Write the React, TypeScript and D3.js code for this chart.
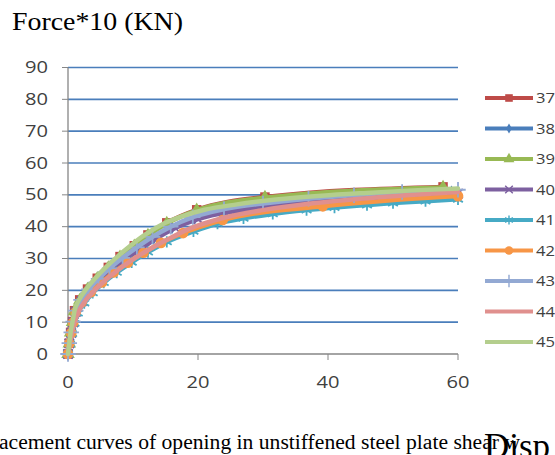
import React from "react";
import * as d3 from "d3";

const seriesNames = ["37", "38", "39", "40", "41", "42", "43", "44", "45"];
const seriesColors = ["#BE4B48", "#4A7EBB", "#98B954", "#7D60A0", "#46AAC5", "#F79646", "#93A9D3", "#E0908E", "#B4CE8D"];
const markerTypes = ["square", "diamond", "triangle", "times", "asterisk", "circle", "plus", "none", "none"];

const d37 = [0, 0.2, 0.4, 0.7, 1.0, 1.8, 3.0, 4.5, 6.2, 8.0, 10.2, 12.3, 15.2, 19.8, 30.3, 57.7];
const f37 = [0, 3.4, 6.8, 10.2, 13.6, 17.0, 20.4, 23.8, 27.2, 30.6, 34.0, 37.4, 41.2, 45.3, 49.3, 52.5];
const d38 = [0, 0.2, 0.5, 0.8, 1.2, 2.0, 3.3, 4.8, 6.5, 8.5, 10.8, 13.2, 16.0, 19.5, 24.5, 31, 38, 45, 52, 59];
const f38 = [0, 3.3, 6.6, 9.9, 13.2, 16.5, 19.8, 23.1, 26.4, 29.7, 33.0, 36.3, 39.6, 42.6, 45.2, 47.0, 48.4, 49.4, 50.3, 51.0];
const d39 = [0, 0.2, 0.4, 0.7, 1.0, 1.8, 3.0, 4.5, 6.2, 8.0, 10.2, 12.3, 15.2, 19.8, 30.3, 57.7];
const f39 = [0, 3.3, 6.7, 10.0, 13.4, 16.8, 20.2, 23.6, 27.0, 30.4, 33.8, 37.2, 41.0, 45.1, 49.1, 52.3];
const d40 = [0, 0.2, 0.5, 0.8, 1.2, 2.1, 3.4, 5.0, 6.8, 8.8, 11.2, 13.6, 16.5, 20.0, 26, 33, 40, 47, 54, 60];
const f40 = [0, 3.3, 6.6, 9.9, 13.2, 16.5, 19.8, 23.1, 26.4, 29.7, 33.0, 36.3, 39.6, 42.4, 45.0, 46.8, 48.0, 49.0, 49.8, 50.4];
const d41 = [0, 0.3, 0.6, 1.0, 1.5, 2.5, 3.8, 5.5, 7.5, 9.8, 12.3, 15.2, 19.3, 23, 27, 31.5, 36.7, 41, 46, 50, 55, 60];
const f41 = [0, 3.2, 6.4, 9.6, 12.8, 16.0, 19.2, 22.4, 25.6, 28.8, 32.0, 35.2, 38.5, 41, 42.6, 44.0, 45.2, 46.0, 46.8, 47.4, 48.0, 48.6];
const d42 = [0, 0.2, 0.5, 0.8, 1.2, 2.1, 3.5, 5.2, 7.0, 9.2, 11.6, 14.3, 17.7, 23.8, 39.2, 60];
const f42 = [0, 3.3, 6.6, 9.9, 13.2, 16.3, 19.4, 22.5, 25.6, 28.7, 31.8, 34.9, 38.0, 42.1, 46.4, 49.6];
const d43 = [0, 0.2, 0.5, 0.8, 1.2, 2.0, 3.2, 4.7, 6.4, 8.4, 10.6, 13.0, 15.8, 19.2, 24, 30, 37, 44, 51.4, 60];
const f43 = [0, 3.4, 6.8, 10.2, 13.6, 17.0, 20.3, 23.6, 26.9, 30.2, 33.5, 36.8, 40.0, 43.0, 45.5, 47.3, 48.8, 49.9, 50.9, 51.6];
const d44 = [0, 0.3, 0.6, 1.0, 1.6, 2.6, 4.0, 5.7, 7.7, 10, 12.6, 15.6, 19, 24, 30, 37, 45, 52, 60];
const f44 = [0, 3.3, 6.6, 9.9, 13.2, 16.5, 19.8, 23.1, 26.4, 29.7, 33.0, 36.3, 39.6, 42.8, 45.2, 47.2, 48.8, 49.9, 50.9];
const d45 = [0, 0.2, 0.4, 0.7, 1.0, 1.7, 2.8, 4.2, 5.8, 7.6, 9.6, 11.8, 14.4, 17.5, 21, 26, 32, 39, 46, 53, 60];
const f45 = [0, 3.4, 6.8, 10.2, 13.6, 17.0, 20.4, 23.8, 27.2, 30.6, 34.0, 37.4, 40.6, 43.2, 45.3, 47.0, 48.5, 49.7, 50.6, 51.4, 52.0];

const dispData = [d37, d38, d39, d40, d41, d42, d43, d44, d45];
const forceData = [f37, f38, f39, f40, f41, f42, f43, f44, f45];

const yTicks = [0, 10, 20, 30, 40, 50, 60, 70, 80, 90];
const xTicks = [0, 20, 40, 60];

const titleText = "Force*10 (KN)";
const captionText = "acement curves of opening in unstiffened steel plate shear w";
const xLabelText = "Disp";

const W = 555, H = 455;
const x = d3.scaleLinear().domain([0, 60]).range([68, 458]);
const y = d3.scaleLinear().domain([0, 90]).range([354, 67.5]);

const sym = (t: string): any => {
  const s: any = d3 as any;
  switch (t) {
    case "square": return d3.symbol(d3.symbolSquare, 90)();
    case "diamond": return d3.symbol(d3.symbolDiamond, 45)();
    case "triangle": return d3.symbol(d3.symbolTriangle, 80)();
    case "circle": return d3.symbol(d3.symbolCircle, 90)();
    case "times": return d3.symbol(s.symbolTimes || d3.symbolCross, 60)();
    case "asterisk": return d3.symbol(s.symbolAsterisk || d3.symbolCross, 90)();
    case "plus": return d3.symbol(s.symbolPlus || d3.symbolCross, 80)();
    default: return null;
  }
};
const strokeSym = (t: string) => t === "times" || t === "asterisk" || t === "plus";

const Marker = ({ t, color, cx, cy, k = 1 }: { t: string; color: string; cx: number; cy: number; k?: number }) => {
  const p = sym(t);
  if (!p) return null;
  const st = strokeSym(t);
  return (
    <path
      d={p}
      transform={`translate(${cx},${cy}) scale(${k})`}
      fill={st ? "none" : color}
      stroke={color}
      strokeWidth={st ? 1.8 : 0}
    />
  );
};

export default function App() {
  const line = d3.line<[number, number]>().x(d => x(d[0])).y(d => y(d[1])).curve(d3.curveMonotoneX);
  const legendY = (i: number) => 98 + i * 30.5;
  const axisFont = "'Open Sans', 'Liberation Sans', sans-serif";
  const serif = "'Liberation Serif', 'Times New Roman', serif";
  return (
    <svg width={W} height={H} style={{ position: "absolute", left: 0, top: 0, background: "#fff" }}>
      <rect width={W} height={H} fill="#fff" />
      <text x={12} y={30} fontFamily={serif} fontSize={25} fill="#000" textLength={171} lengthAdjust="spacingAndGlyphs">
        {titleText}
      </text>
      {yTicks.filter(t => t > 0).map(t => (
        <line key={"g" + t} x1={68} x2={458} y1={y(t)} y2={y(t)} stroke="#4A7EBB" strokeWidth={1.6} />
      ))}
      <line x1={68} x2={68} y1={y(90)} y2={y(0)} stroke="#868686" strokeWidth={1.3} />
      {yTicks.map(t => (
        <line key={"yt" + t} x1={62} x2={68} y1={y(t)} y2={y(t)} stroke="#868686" strokeWidth={1} />
      ))}
      {yTicks.map(t => (
        <text key={"yl" + t} x={48} y={y(t) + 5.5} textAnchor="end" fontFamily={axisFont} fontSize={15.5} fill="#404040"
          textLength={String(t).length * 11.5} lengthAdjust="spacingAndGlyphs">
          {t}
        </text>
      ))}
      <line x1={68} x2={458} y1={y(0)} y2={y(0)} stroke="#868686" strokeWidth={1.3} />
      {xTicks.map(t => (
        <line key={"xt" + t} x1={x(t)} x2={x(t)} y1={y(0)} y2={y(0) + 6} stroke="#868686" strokeWidth={1} />
      ))}
      {xTicks.map(t => (
        <text key={"xl" + t} x={x(t)} y={388} textAnchor="middle" fontFamily={axisFont} fontSize={15.5} fill="#404040"
          textLength={String(t).length * 11.5} lengthAdjust="spacingAndGlyphs">
          {t}
        </text>
      ))}
      {seriesNames.map((n, i) => {
        const pts: [number, number][] = dispData[i].map((d, j) => [d, forceData[i][j]]);
        return (
          <g key={"s" + n}>
            <path d={line(pts) || ""} fill="none" stroke={seriesColors[i]} strokeWidth={4.5} strokeLinejoin="round" strokeLinecap="round" />
            {pts.map((p, j) => (
              <Marker key={j} t={markerTypes[i]} color={seriesColors[i]} cx={x(p[0])} cy={y(p[1])} />
            ))}
          </g>
        );
      })}
      {seriesNames.map((n, i) => (
        <g key={"l" + n}>
          <line x1={485} x2={533} y1={legendY(i)} y2={legendY(i)} stroke={seriesColors[i]} strokeWidth={3.8} />
          <Marker t={markerTypes[i]} color={seriesColors[i]} cx={509} cy={legendY(i)} k={0.8} />
          <text x={536} y={legendY(i) + 5} fontFamily={axisFont} fontSize={14.5} fill="#404040"
            textLength={19} lengthAdjust="spacingAndGlyphs">
            {n}
          </text>
        </g>
      ))}
      <text x={-1} y={449} fontFamily={serif} fontSize={20} fill="#000" textLength={521} lengthAdjust="spacingAndGlyphs">
        {captionText}
      </text>
      <text x={484} y={458} fontFamily={serif} fontSize={35} fill="#000">
        {xLabelText}
      </text>
    </svg>
  );
}
